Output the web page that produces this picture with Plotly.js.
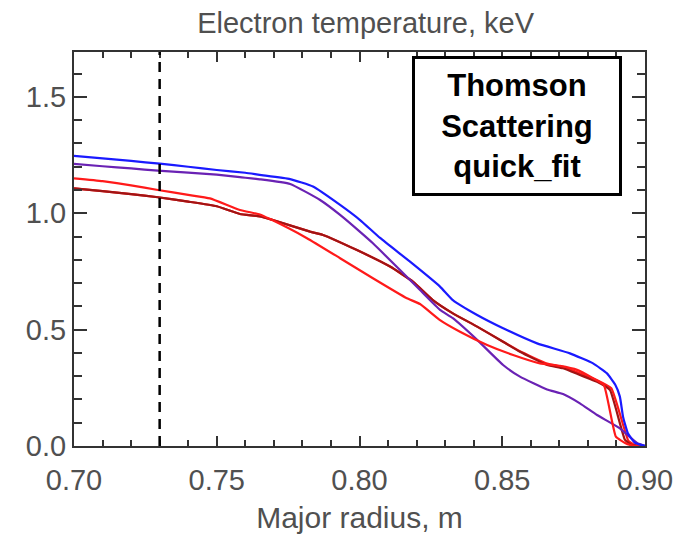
<!DOCTYPE html>
<html>
<head>
<meta charset="utf-8">
<script src="https://cdn.plot.ly/plotly-3.0.1.min.js"></script>
<style>html,body{margin:0;padding:0;background:#fff;}#chart{width:686px;height:535px;}</style>
</head>
<body>
<div id="chart"></div>
<script>
// Blue profile
const blueX = [0.700,0.710,0.720,0.730,0.740,0.750,0.760,0.765,0.7757,0.7837,0.7932,0.8002,0.8072,0.8177,0.8282,0.8327,0.8412,0.8503,0.8622,0.8737,0.8818,0.8867,0.8895,0.8912,0.8923,0.8940,0.8965,0.900];
const blueY = [1.247,1.236,1.225,1.213,1.200,1.186,1.174,1.165,1.147,1.115,1.036,0.971,0.894,0.792,0.685,0.627,0.563,0.506,0.441,0.398,0.355,0.312,0.265,0.212,0.126,0.055,0.013,0.0];
// Purple profile
const purpleX = [0.700,0.710,0.720,0.7294,0.740,0.750,0.7581,0.7651,0.7757,0.7862,0.7932,0.8002,0.8047,0.8142,0.8212,0.8282,0.8327,0.8412,0.8503,0.8562,0.8657,0.8713,0.8772,0.8832,0.8912,0.8972,0.900];
const purpleY = [1.212,1.202,1.193,1.183,1.175,1.166,1.155,1.146,1.126,1.057,0.993,0.920,0.871,0.756,0.670,0.585,0.549,0.456,0.348,0.298,0.243,0.223,0.183,0.133,0.076,0.013,0.0];
// Dark red profile
const maroonX = [0.700,0.710,0.720,0.7294,0.740,0.750,0.7581,0.7651,0.7697,0.7827,0.7872,0.7991,0.8107,0.8187,0.8257,0.8327,0.8412,0.8503,0.8562,0.8657,0.8713,0.8772,0.8832,0.8877,0.8930,0.8954,0.900];
const maroonY = [1.107,1.095,1.082,1.069,1.050,1.030,0.997,0.987,0.971,0.921,0.907,0.842,0.771,0.706,0.627,0.570,0.513,0.448,0.405,0.348,0.334,0.305,0.276,0.241,0.026,0.004,0.0];
// Second red profile (lying under the dark red one)
const red2X = [0.700,0.710,0.720,0.7294,0.740,0.750,0.7581,0.7651,0.7697,0.7827,0.7872,0.7991,0.8107,0.8187,0.8257,0.8327,0.8412,0.8503,0.8562,0.8657,0.8713,0.8772,0.8832,0.8882,0.8942,0.8965,0.900];
const red2Y = [1.107,1.095,1.082,1.069,1.050,1.030,0.997,0.987,0.971,0.921,0.907,0.842,0.771,0.706,0.627,0.570,0.513,0.448,0.407,0.354,0.340,0.312,0.283,0.248,0.022,0.004,0.0];
// Red profile
const redX = [0.700,0.710,0.720,0.7294,0.740,0.7476,0.7581,0.7651,0.7687,0.7816,0.7932,0.8047,0.8166,0.8212,0.8282,0.8352,0.8447,0.8538,0.8632,0.8702,0.8762,0.8818,0.8856,0.8898,0.8930,0.8965,0.900];
const redY = [1.150,1.138,1.120,1.100,1.079,1.064,1.014,0.995,0.975,0.893,0.807,0.721,0.635,0.610,0.541,0.491,0.434,0.391,0.355,0.344,0.327,0.291,0.262,0.040,0.013,0.0,0.0];

const markerR = 0.73;

const lw = 2.2;
const ln = (c) => ({color:c, width:lw, shape:'spline', smoothing:0.4});
const traces = [
  {x: red2X, y: red2Y, mode:'lines', line:ln('#ff1a1a')},
  {x: maroonX, y: maroonY, mode:'lines', line:ln('#a01414')},
  {x: purpleX, y: purpleY, mode:'lines', line:ln('#6a22b4')},
  {x: redX, y: redY, mode:'lines', line:ln('#ff1a1a')},
  {x: blueX, y: blueY, mode:'lines', line:ln('#1a1aff')}
];

const axCol = '#333333';
const fam = 'Liberation Sans, Arial, sans-serif';
const tickFont = {family:fam, size:29, color:'#505050'};
const layout = {
  width:686, height:535,
  margin:{l:74, r:41, t:52, b:89},
  paper_bgcolor:'#fff', plot_bgcolor:'#fff',
  showlegend:false,
  title:{text:'Electron temperature, keV', font:{family:fam, size:29, color:'#505050'},
         xref:'container', x:0.533, xanchor:'center', yref:'container', y:0.958, yanchor:'middle'},
  xaxis:{range:[0.70,0.90], dtick:0.05, tickformat:'.2f',
         showgrid:false, zeroline:false,
         showline:true, mirror:'ticks', linecolor:axCol, linewidth:2,
         ticks:'inside', ticklen:10, tickwidth:2, tickcolor:axCol, tickfont:tickFont, ticklabelstandoff:7,
         minor:{dtick:0.01, ticks:'inside', ticklen:6, tickwidth:2, tickcolor:axCol},
         title:{text:'Major radius, m', font:{family:fam, size:30, color:'#505050'}, standoff:12}},
  yaxis:{range:[0,1.693], dtick:0.5, tickformat:'.1f',
         showgrid:false, zeroline:false,
         showline:true, mirror:'ticks', linecolor:axCol, linewidth:2,
         ticks:'inside', ticklen:13, tickwidth:2, tickcolor:axCol, tickfont:tickFont,
         minor:{dtick:0.1, ticks:'inside', ticklen:8, tickwidth:2, tickcolor:axCol}},
  shapes:[{type:'line', xref:'x', yref:'paper', x0:markerR, x1:markerR, y0:0, y1:1,
           line:{color:'#000', width:2.5, dash:'10px,7px'}}],
  annotations:[{xref:'x', yref:'y', x:0.855, y:1.373, xanchor:'center', yanchor:'middle', showarrow:false,
    text:'<b>Thomson<br>Scattering<br>quick_fit</b>', align:'center',
    font:{family:fam, size:31, color:'#000'},
    bgcolor:'#fff', bordercolor:'#000', borderwidth:3, borderpad:4, width:196, height:126}]
};
Plotly.newPlot('chart', traces, layout, {staticPlot:true, displayModeBar:false});
</script>
</body>
</html>
